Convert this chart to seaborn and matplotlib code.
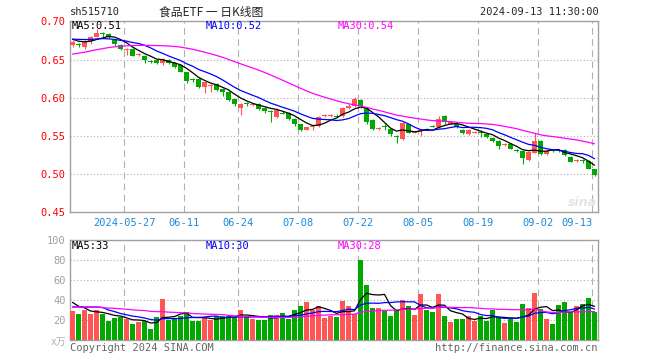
import numpy as np
import pandas as pd
import matplotlib
matplotlib.use('Agg')
import matplotlib.pyplot as plt
import seaborn as sns

# 日K数据 (2024-05-14 ~ 2024-09-13)
open_ = [0.669, 0.670, 0.667, 0.674, 0.680, 0.684, 0.684, 0.676, 0.669, 0.662,
         0.664, 0.656, 0.655, 0.648, 0.650, 0.646, 0.650, 0.646, 0.643, 0.633,
         0.624, 0.625, 0.614, 0.615, 0.618, 0.611, 0.608, 0.598, 0.587, 0.592,
         0.590, 0.592, 0.587, 0.582, 0.575, 0.580, 0.580, 0.572, 0.565, 0.558,
         0.561, 0.563, 0.576, 0.576, 0.576, 0.576, 0.586, 0.589, 0.597, 0.587,
         0.571, 0.559, 0.562, 0.559, 0.550, 0.546, 0.565, 0.554, 0.556, 0.559,
         0.563, 0.561, 0.576, 0.566, 0.566, 0.558, 0.552, 0.554, 0.554, 0.552,
         0.547, 0.543, 0.538, 0.539, 0.531, 0.530, 0.518, 0.528, 0.543, 0.526,
         0.531, 0.531, 0.531, 0.522, 0.517, 0.518, 0.517, 0.506]
high = [0.675, 0.672, 0.676, 0.681, 0.690, 0.686, 0.685, 0.677, 0.670, 0.665,
        0.665, 0.659, 0.656, 0.650, 0.651, 0.652, 0.651, 0.647, 0.644, 0.634,
        0.626, 0.626, 0.621, 0.618, 0.619, 0.612, 0.609, 0.599, 0.593, 0.594,
        0.593, 0.593, 0.588, 0.584, 0.585, 0.582, 0.581, 0.573, 0.566, 0.562,
        0.564, 0.576, 0.578, 0.579, 0.578, 0.588, 0.591, 0.601, 0.598, 0.588,
        0.572, 0.561, 0.565, 0.560, 0.551, 0.568, 0.566, 0.556, 0.559, 0.560,
        0.564, 0.576, 0.577, 0.568, 0.567, 0.559, 0.559, 0.556, 0.558, 0.553,
        0.548, 0.544, 0.541, 0.540, 0.533, 0.531, 0.530, 0.553, 0.544, 0.531,
        0.532, 0.532, 0.532, 0.523, 0.520, 0.519, 0.518, 0.507]
low = [0.666, 0.667, 0.664, 0.670, 0.679, 0.680, 0.678, 0.668, 0.663, 0.656,
       0.654, 0.655, 0.646, 0.646, 0.644, 0.643, 0.644, 0.639, 0.633, 0.619,
       0.621, 0.613, 0.606, 0.607, 0.609, 0.602, 0.596, 0.589, 0.577, 0.589,
       0.589, 0.584, 0.580, 0.568, 0.573, 0.578, 0.571, 0.563, 0.556, 0.557,
       0.558, 0.562, 0.575, 0.575, 0.574, 0.575, 0.585, 0.588, 0.587, 0.566,
       0.557, 0.558, 0.558, 0.550, 0.541, 0.545, 0.553, 0.553, 0.550, 0.557,
       0.561, 0.560, 0.566, 0.565, 0.560, 0.552, 0.551, 0.553, 0.549, 0.547,
       0.542, 0.533, 0.537, 0.532, 0.529, 0.513, 0.517, 0.527, 0.525, 0.525,
       0.529, 0.529, 0.524, 0.515, 0.516, 0.514, 0.506, 0.497]
close = [0.673, 0.669, 0.674, 0.680, 0.685, 0.683, 0.679, 0.670, 0.664, 0.664,
         0.655, 0.657, 0.649, 0.647, 0.645, 0.651, 0.645, 0.640, 0.634, 0.622,
         0.623, 0.614, 0.620, 0.617, 0.610, 0.607, 0.597, 0.592, 0.592, 0.591,
         0.591, 0.585, 0.582, 0.581, 0.584, 0.579, 0.572, 0.565, 0.557, 0.561,
         0.562, 0.575, 0.577, 0.577, 0.575, 0.587, 0.589, 0.598, 0.589, 0.568,
         0.559, 0.560, 0.561, 0.552, 0.548, 0.567, 0.554, 0.555, 0.557, 0.558,
         0.562, 0.572, 0.568, 0.567, 0.561, 0.553, 0.558, 0.555, 0.553, 0.548,
         0.543, 0.536, 0.539, 0.533, 0.530, 0.521, 0.529, 0.543, 0.526, 0.530,
         0.530, 0.530, 0.525, 0.516, 0.518, 0.517, 0.507, 0.499]
# 成交量(万手)
volume = [29, 26, 30, 26, 30, 26, 19, 22, 23, 21, 16, 18, 19, 11, 23, 41, 20, 22,
          24, 28, 19, 19, 22, 20, 24, 24, 24, 23, 30, 24, 21, 20, 20, 25, 25, 27,
          21, 30, 34, 38, 30, 34, 22, 24, 23, 39, 34, 26, 80, 55, 32, 32, 29, 24,
          30, 40, 34, 25, 46, 30, 28, 46, 24, 18, 21, 21, 24, 19, 24, 19, 30, 23,
          17, 21, 18, 36, 32, 47, 31, 21, 16, 35, 38, 28, 34, 36, 42, 28]
# 窗口之前的29个交易日(用于均线起点，按均线位置估计)
pre_close = [0.632, 0.635, 0.630, 0.638, 0.641, 0.637, 0.640, 0.645, 0.643, 0.648,
             0.646, 0.650, 0.652, 0.649, 0.655, 0.658, 0.656, 0.660, 0.663, 0.667,
             0.672, 0.676, 0.680, 0.677, 0.679, 0.682, 0.678, 0.676, 0.674]
pre_volume = [30, 36, 28, 34, 40, 31, 29, 38, 33, 35, 30, 27, 36, 32, 41, 34, 30, 33,
              29, 43, 26, 31, 25, 30, 30, 45, 38, 42, 34]

date_labels = ['2024-05-27', '06-11', '06-24', '07-08', '07-22', '08-05', '08-19', '09-02', '09-13']
date_idx = [9, 19, 28, 38, 48, 58, 68, 78, 87]
price_ticks = [0.45, 0.50, 0.55, 0.60, 0.65, 0.70]
vol_ticks = [20, 40, 60, 80, 100]
ma_price_text = ['MA5:0.51', 'MA10:0.52', 'MA30:0.54']
ma_vol_text = ['MA5:33', 'MA10:30', 'MA30:28']

RED = '#ff5555'
GREEN = '#00a800'
FRAME = '#a0a0a0'
GRID = '#b0b0b0'
MA_COLORS = ['black', '#0000ff', '#ff00ff']

sns.set_style('white')
plt.rcParams['font.family'] = ['DejaVu Sans Mono', 'Noto Sans CJK SC']

W, H = 660, 360
fig = plt.figure(figsize=(W / 100, H / 100), dpi=100)


def px(x0, y0, x1, y1):
    return [x0 / W, 1 - y1 / H, (x1 - x0) / W, (y1 - y0) / H]


ax = fig.add_axes(px(70, 21, 598, 212))
axv = fig.add_axes(px(70, 240, 598, 340))

n = len(close)
idx = np.arange(n)
o = np.array(open_)
c = np.array(close)
up = c >= o
colors = np.where(up, RED, GREEN)

# 均线
full_close = pd.Series(pre_close + close)
full_vol = pd.Series(pre_volume + volume)
k = len(pre_close)

# K线
ax.vlines(idx, low, high, colors=colors, linewidth=0.8, zorder=3)
body_h = np.maximum(np.abs(c - o), 0.0014)
ax.bar(idx, body_h, bottom=np.minimum(o, c), width=0.8, color=colors, linewidth=0, zorder=3)
for w, col in zip([5, 10, 30], MA_COLORS):
    ma = full_close.rolling(w).mean().iloc[k:].to_numpy()
    sns.lineplot(x=idx, y=ma, ax=ax, color=col, linewidth=0.9, zorder=4)

# 成交量
vdf = pd.DataFrame({'i': idx, 'vol': volume, 'dir': np.where(up, 'up', 'down')})
sns.barplot(data=vdf, x='i', y='vol', hue='dir', palette={'up': RED, 'down': GREEN},
            native_scale=True, dodge=False, width=0.8, saturation=1, errorbar=None,
            legend=False, linewidth=0, ax=axv, zorder=3)
for w, col in zip([5, 10, 30], MA_COLORS):
    ma = full_vol.rolling(w).mean().iloc[k:].to_numpy()
    sns.lineplot(x=idx, y=ma, ax=axv, color=col, linewidth=0.9, zorder=4)

grid_x = np.array(date_idx) - 0.37
for a in (ax, axv):
    a.set_xlim(-0.42, 87.58)
    a.set_xlabel('')
    a.set_ylabel('')
    a.set_xticks(grid_x)
    a.xaxis.grid(True, linestyle=(0, (6, 4)), color=GRID, linewidth=0.8)
    a.yaxis.grid(True, linestyle=(0, (1, 2)), color=GRID, linewidth=0.8)
    a.set_axisbelow(True)
    a.tick_params(axis='both', length=0, labelsize=7.5, pad=3)
    for s in a.spines.values():
        s.set_visible(True)
        s.set_color(FRAME)
        s.set_linewidth(1)

ax.set_ylim(0.45, 0.7005)
ax.set_yticks(price_ticks)
ax.set_yticklabels([f'{v:.2f}' for v in price_ticks], color='red')
ax.set_xticklabels(date_labels, color='#1e88d8')
ax.tick_params(axis='x', pad=4)
ax.get_xticklabels()[-1].set_ha('right')
ax.get_xticklabels()[-1].set_x(grid_x[-1] + 0.3)

axv.set_ylim(0, 100)
axv.set_yticks(vol_ticks)
axv.set_yticklabels([str(v) for v in vol_ticks], color='#a0a0a0')
axv.set_xticklabels([])

# 均线数值
for xpos, txt, col in zip([72, 206, 338], ma_price_text, MA_COLORS):
    fig.text(xpos / W, 1 - 26 / H, txt, color=col, fontsize=7.5, va='center')
for xpos, txt, col in zip([72, 206, 338], ma_vol_text, MA_COLORS):
    fig.text(xpos / W, 1 - 246 / H, txt, color=col, fontsize=7.5, va='center')

# 标题
fig.text(70 / W, 1 - 12 / H, 'sh515710', fontsize=7.5, va='center')
fig.text(211 / W, 1 - 12 / H, '食品ETF 一 日K线图', fontsize=8.5, va='center', ha='center',
         family=['Noto Sans CJK SC', 'DejaVu Sans'])
fig.text(599 / W, 1 - 12 / H, '2024-09-13 11:30:00', fontsize=7.5, va='center', ha='right')

fig.text(597 / W, 1 - 203 / H, 'sina', fontsize=9, style='italic', weight='bold',
         color='#e4e4e4', ha='right', va='center', family='DejaVu Sans')
fig.text(66 / W, 1 - 342 / H, 'x万', fontsize=7, color='#b0b0b0', ha='right', va='center',
         family=['DejaVu Sans Mono', 'Noto Sans CJK SC'])
fig.text(70 / W, 1 - 348 / H, 'Copyright 2024 SINA.COM', fontsize=7.5, color='#666666', va='center')
fig.text(598 / W, 1 - 348 / H, 'http://finance.sina.com.cn', fontsize=7.5, color='#666666',
         va='center', ha='right')

fig.savefig('out.png', dpi=100, facecolor='white')
